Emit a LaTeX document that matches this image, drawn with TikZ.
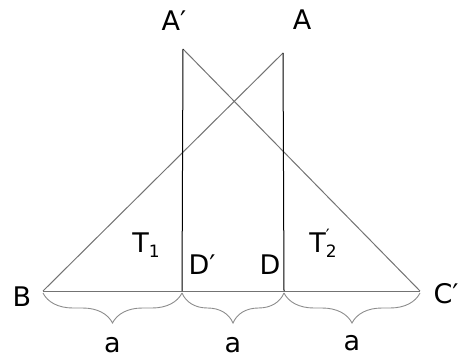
\documentclass[tikz,border=0pt]{standalone}
\usepackage{fontspec}
\setsansfont{DejaVu Sans}
\usetikzlibrary{decorations.pathreplacing}

\begin{document}
\begin{tikzpicture}[x=1pt,y=-1pt,font=\sffamily\fontsize{27}{30}\selectfont,
  lbl/.style={inner sep=0pt},
  side/.style={draw=black!55,line width=1pt},
  br/.style={draw=black!45,line width=0.9pt,decorate,decoration={brace,mirror,amplitude=30pt}}]
  \useasboundingbox (0,0) rectangle (468,361);
  % points
  \coordinate (B) at (43,291);
  \coordinate (Dp) at (182,291);
  \coordinate (D) at (284,291);
  \coordinate (Cp) at (420,291);
  \coordinate (Ap) at (183,49);
  \coordinate (A) at (283,53);
  % lines
  \draw[side] (B) -- (A);
  \draw[side] (Ap) -- (Cp);
  \draw[side] (B) -- (Cp);
  \draw[line width=1pt] (Ap) -- (Dp);
  \draw[line width=1pt] (A) -- (D);
  % braces
  \draw[br] ([yshift=-2]B) -- node[lbl,midway,yshift=-52pt] (a1) {a} ([yshift=-2]Dp);
  \draw[br] ([yshift=-2]Dp) -- node[lbl,midway,yshift=-52pt] (a2) {a} ([yshift=-2]D);
  \draw[br] ([yshift=-2]D) -- node[lbl,midway,yshift=-50pt] (a3) {a} ([yshift=-2]Cp);
  % labels
  \node[lbl] (lB) at (22,297) {B};
  \node[lbl] (lCp) at (446,294) {C′};
  \node[lbl] (lAp) at (174,21) {A′};
  \node[lbl] (lA) at (302,20) {A};
  \node[lbl] (lDp) at (202,265) {D′};
  \node[lbl] (lD) at (270,265) {D};
  \node[lbl] (lT1) at (146,245) {T\raisebox{-0.35ex}{\fontsize{17}{18}\selectfont 1}};
  \node[lbl] (lT2) at (323,243) {T\raisebox{-0.35ex}{\rlap{\raisebox{1.1ex}{\fontsize{17}{18}\selectfont ′}}\fontsize{17}{18}\selectfont 2}};
\end{tikzpicture}
\end{document}
